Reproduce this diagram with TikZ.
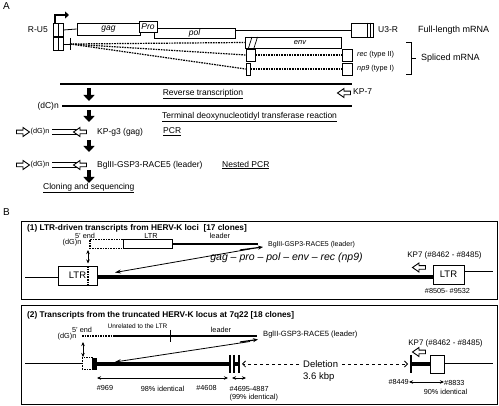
\documentclass[tikz,border=0pt]{standalone}
\usepackage{fontspec}
\setmainfont{Liberation Sans}
\usetikzlibrary{arrows.meta}

\tikzset{
  lbl/.style={inner sep=0pt, font=\fontsize{8.5}{10}\selectfont},
  small/.style={inner sep=0pt, font=\fontsize{7.3}{9}\selectfont},
  title/.style={inner sep=0pt, anchor=west, font=\fontsize{8.3}{10}\selectfont\bfseries},
  genebox/.style={draw, fill=white, line width=0.7pt, inner sep=0pt, font=\fontsize{8.5}{10}\selectfont\itshape},
  strand/.style={line width=2.4pt},
  genome/.style={line width=4pt},
  splice/.style={line width=1.2pt, dash pattern=on 1.6pt off 1pt},
  stepdown/.style={line width=4pt, -{Triangle[width=11pt,length=6pt]}},
  bar/.style={line width=1.6pt},
  span/.style={line width=0.7pt, {Stealth[length=4pt,width=3.5pt]}-{Stealth[length=4pt,width=3.5pt]}},
  primer/.pic={\draw[line width=0.9pt, fill=white] (-6.5,-1.8) -- (0,-1.8) -- (0,-4.5) -- (6.5,0) -- (0,4.5) -- (0,1.8) -- (-6.5,1.8) -- cycle;},
}

\begin{document}
\begin{tikzpicture}[x=1pt, y=-1pt]
  \useasboundingbox (0,0) rectangle (499,406);

  % ---- panel A ----
  \node[lbl, anchor=west, font=\fontsize{10}{12}\selectfont] (panA) at (3,6) {A};

  % full-length mRNA
  \node[genebox, minimum width=10, minimum height=13] (ltrL) at (58,30) {};
  \draw[line width=0.7pt] (ltrL.north) -- (ltrL.south);
  \draw[line width=2pt, -{Triangle[width=7pt,length=4pt]}] (55,23) -- (55,15) -- (69,15);
  \node[lbl, anchor=east] (ru5) at (48,30) {R-U5};
  \node[genebox, minimum width=63, minimum height=12] (gag) at (108.5,29) {gag};
  \draw[line width=0.8pt] (ltrL.east) -- (gag.west);
  \node[genebox, minimum width=81, minimum height=10] (pol) at (194.5,33) {pol};
  \node[genebox, minimum width=18, minimum height=11] (pro) at (148,26.5) {Pro};
  \node[genebox, minimum width=22, minimum height=14] (u3r) at (362,30) {};
  \draw[line width=0.8pt] (pol.east |- ltrL) -- (u3r.west);
  \draw[line width=0.7pt] ([xshift=-6]u3r.north east) -- ([xshift=-6]u3r.south east)
                          ([xshift=-3.5]u3r.north east) -- ([xshift=-3.5]u3r.south east);
  \node[lbl, anchor=west] (u3rl) at (378,30) {U3-R};
  \node[lbl, anchor=west, font=\fontsize{9}{11}\selectfont] (full) at (418,30) {Full-length mRNA};

  % spliced mRNAs
  \node[genebox, minimum width=10, minimum height=13] (ltrS) at (58,44) {};
  \draw[line width=0.7pt] (ltrS.north) -- (ltrS.south);
  \coordinate (spl) at (70,44);
  \draw[line width=0.8pt] (ltrS.east) -- (spl);
  \draw[line width=0.9pt] (70,38) -- (70,50);
  \node[genebox, minimum width=96, minimum height=11, font=\fontsize{7.5}{9}\selectfont\itshape] (env) at (293,42.5) {\hspace{14pt}env};
  \draw[line width=0.7pt] (248.5,48) -- (252,37) (254,48) -- (257.5,37);
  \node[genebox, minimum width=9, minimum height=12] (recA) at (250.5,55) {};
  \node[genebox, minimum width=10, minimum height=12] (recB) at (347,55) {};
  \node[genebox, minimum width=4, minimum height=12] (npA) at (248,69) {};
  \node[genebox, minimum width=10, minimum height=12] (npB) at (347,69) {};
  \draw[splice] (spl) -- (env.west);
  \draw[splice] (spl) -- (recA.west);
  \draw[splice] (spl) -- (npA.west);
  \draw[splice] (recA.east) -- (recB.west);
  \draw[splice] (npA.east) -- (npB.west);
  \node[small, anchor=west] (recl) at (357,55) {\textit{rec} (type II)};
  \node[small, anchor=west] (npl) at (357,69) {\textit{np9} (type I)};
  \draw[line width=0.8pt] (406,42) -- (411,42) -- (411,74) -- (406,74) (411,58) -- (416,58);
  \node[lbl, anchor=west, font=\fontsize{9}{11}\selectfont] (spliced) at (421,58) {Spliced mRNA};

  % reverse transcription and tailing
  \coordinate (rtL) at (60,84);
  \coordinate (rtR) at (352,84);
  \draw[strand] (rtL) -- (rtR);
  \pic[rotate=180] at (344,93) {primer};
  \node[lbl, anchor=west] (kp7) at (353,92) {KP-7};
  \draw[stepdown] (89,88) -- (89,101);
  \node[lbl] (rt) at (203,94) {\underline{Reverse transcription}};
  \node[lbl, anchor=east] (dc) at (59,106) {(dC)n};
  \coordinate (tdR) at (352,106);
  \draw[strand] (dc.east) ++(3,0) -- (tdR);
  \draw[stepdown] (89,110) -- (89,122);
  \node[lbl, anchor=west] (tdt) at (162,117) {\underline{Terminal deoxynucleotidyl transferase reaction}};

  % PCR and nested PCR
  \foreach \y/\name/\what/\step/\sx in {132/pcr/{KP-g3 (gag)}/PCR/163, 165/npcr/{BglII-GSP3-RACE5 (leader)}/Nested PCR/222}{
    \pic at (23,\y) {primer};
    \node[small, anchor=west] (dg\name) at (30.5,\y) {(dG)n};
    \draw[line width=1.7pt] (52,\y-2.6) -- (78,\y-2.6) (52,\y+2.6) -- (78,\y+2.6);
    \pic[rotate=180] at (80,\y) {primer};
    \node[lbl, anchor=west] (gsp\name) at (97,\y) {\what};
    \node[lbl, anchor=west] (st\name) at (\sx,\y) {\underline{\step}};
  }
  \draw[stepdown] (89,140) -- (89,152);
  \draw[stepdown] (89,170) -- (89,183);
  \node[lbl, anchor=west] (clone) at (43,188) {\underline{Cloning and sequencing}};

  % ---- panel B ----
  \node[lbl, anchor=west, font=\fontsize{10}{12}\selectfont] (panB) at (3,212) {B};
  \node[draw, line width=0.8pt, minimum width=476, minimum height=78, inner sep=0pt] (boxA) at (259,260) {};
  \node[draw, line width=0.8pt, minimum width=476, minimum height=99, inner sep=0pt] (boxB) at (259,354.5) {};
  \node[title] (tA) at (27,228.5) {(1) LTR-driven transcripts from HERV-K loci~~[17 clones]};
  \node[title] (tB) at (27,315) {(2) Transcripts from the truncated HERV-K locus at 7q22 [18 clones]};

  % (1) transcript
  \node[small] (endA) at (85,236) {5' end};
  \node[small] (dgA) at (72,243) {(dG)n};
  \draw[splice] (123,239.5) -- (90,239.5) -- (90,248.5) -- (123,248.5);
  \node[genebox, minimum width=49, minimum height=9] (ltrA) at (147.5,244) {};
  \node[small] (ltrAl) at (151,235.5) {LTR};
  \coordinate (ldA) at (258,244);
  \draw[strand] (ltrA.east) -- (ldA);
  \node[small] (leadA) at (220,235.5) {leader};
  \draw[line width=1.2pt, -{Stealth[length=5pt,width=4pt]}] (240,250) -- (263,247);
  \node[inner sep=0pt, anchor=west, font=\fontsize{7}{8}\selectfont] (gspA) at (268,245) {BglII-GSP3-RACE5 (leader)};
  % (1) locus
  \coordinate (gAL) at (25,277);
  \node[genebox, minimum width=39, minimum height=19, font=\fontsize{9.5}{11}\selectfont] (ltrG) at (77.5,275.5) {LTR};
  \node[genebox, minimum width=31, minimum height=19, font=\fontsize{9.5}{11}\selectfont] (ltrH) at (448.5,274.5) {LTR};
  \draw[line width=0.8pt] (gAL) -- (ltrG.west |- gAL);
  \draw[genome] (ltrG.east |- gAL) -- (ltrH.west |- gAL);
  \coordinate (gAR) at (493,271);
  \draw[line width=0.8pt] (ltrH.east |- gAR) -- (gAR);
  \draw[splice] (88,266) -- (88,285);
  \draw[span] (88,250) -- (88,263.5);
  \draw[line width=0.8pt, -{Stealth[length=6pt,width=4pt]}] (250,249) -- (115,272.5);
  \node[inner sep=0pt, font=\fontsize{10.5}{12}\selectfont\itshape] (orfs) at (286.5,258) {gag -- pro -- pol -- env -- rec (np9)};
  \pic[rotate=180] at (419,267.5) {primer};
  \node[small, font=\fontsize{8}{9}\selectfont] (kp7A) at (444.5,255) {KP7 (\#8462 - \#8485)};
  \node[small] (posA) at (447.5,290.5) {\#8505- \#9532};

  % (2) transcript
  \node[small, font=\fontsize{6.5}{8}\selectfont] (unrel) at (137.5,326) {Unrelated to the LTR};
  \node[small] (endB) at (82,329.5) {5' end};
  \node[small] (dgB) at (67,337) {(dG)n};
  \coordinate (trB) at (115,336);
  \coordinate (ldB) at (257,336);
  \draw[splice] (82,336) -- (trB);
  \draw[strand] (trB) -- (ldB);
  \draw[line width=0.9pt] (170,330) -- (170,342);
  \node[small] (leadB) at (221,330) {leader};
  \draw[line width=1.2pt, -{Stealth[length=5pt,width=4pt]}] (240,342) -- (258,339.5);
  \node[inner sep=0pt, anchor=west, font=\fontsize{7.6}{9}\selectfont] (gspB) at (263,335) {BglII-GSP3-RACE5 (leader)};
  % (2) locus
  \coordinate (gBL) at (25,363.5);
  \draw[line width=0.8pt] (gBL) -- (82,363.5);
  \draw[line width=1pt, dash pattern=on 1.4pt off 1pt] (82,358) rectangle (92,370);
  \node[fill=black, minimum width=5, minimum height=12, inner sep=0pt] (blk) at (94.5,364) {};
  \draw[genome] (blk.east) -- (230,364);
  \draw[bar] (230,355) -- (230,373) (234,355) -- (234,373) (239,355) -- (239,373);
  \draw[genome] (234,364) -- (239,364);
  \draw[span] (83,342) -- (83,357);
  \draw[line width=0.8pt, -{Stealth[length=6pt,width=4pt]}] (250,341.5) -- (115,362);
  \node[lbl, anchor=west, font=\fontsize{9.5}{11}\selectfont] (del) at (303,364) {Deletion};
  \node[lbl, anchor=west, font=\fontsize{9.5}{11}\selectfont] (kbp) at (303,377) {3.6 kbp};
  \draw[line width=0.8pt, dashed, -{Straight Barb[length=3pt,width=6pt]}] (del.west) ++(-4,0) -- (242,364);
  \draw[line width=0.8pt, dashed, -{Straight Barb[length=3pt,width=6pt]}] (del.east) ++(4,0) -- (408,364);
  \draw[bar] (411,355) -- (411,373);
  \node[genebox, minimum width=14, minimum height=18] (ltrB) at (437,364) {};
  \draw[genome] (411,364) -- (ltrB.west);
  \coordinate (gBR) at (493,363.5);
  \draw[line width=0.8pt] (ltrB.east |- gBR) -- (gBR);
  \pic[rotate=180] at (419,352) {primer};
  \node[small, font=\fontsize{8}{9}\selectfont] (kp7B) at (445.5,343) {KP7 (\#8462 - \#8485)};
  % identities
  \node[small, anchor=east] (p8449) at (409,382) {\#8449};
  \node[small, anchor=west] (p8833) at (444,383) {\#8833};
  \draw[span] (p8449.east) -- (p8833.west |- p8449);
  \node[small] (id90) at (445.5,391.5) {90\% identical};
  \coordinate (p969) at (97,378);
  \coordinate (p4608) at (228,378);
  \draw[span] (p969) -- (p4608);
  \node[small] (n969) at (105,388) {\#969};
  \node[small] (id98) at (162.5,389) {98\% identical};
  \node[small] (n4608) at (206.5,388) {\#4608};
  \draw[span] (232,378) -- (246,378);
  \node[small, anchor=west] (n4695) at (229.5,389) {\#4695-4887};
  \node[small, anchor=west] (id99) at (229.5,398) {(99\% identical)};
\end{tikzpicture}
\end{document}
